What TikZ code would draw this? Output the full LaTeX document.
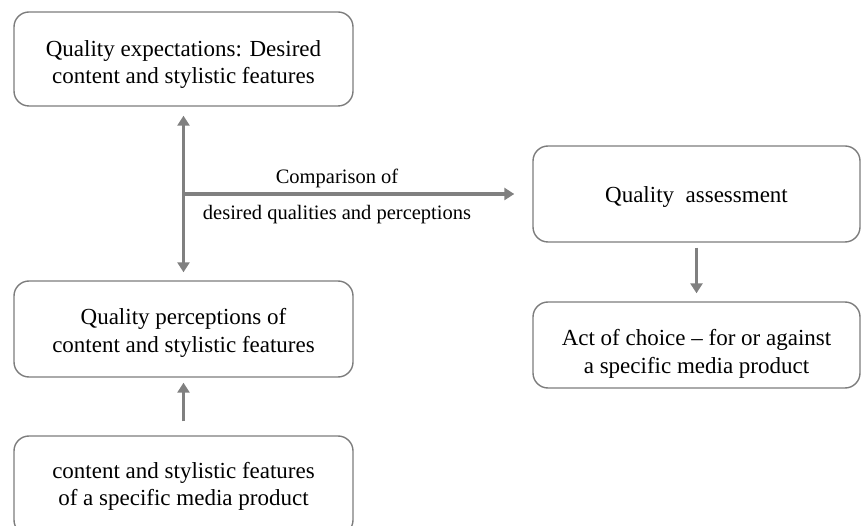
\documentclass[tikz,border=0pt]{standalone}
\usepackage{fontspec}
\setmainfont{Liberation Serif}
\usetikzlibrary{arrows.meta}
\definecolor{bordergray}{RGB}{124,124,124}
\definecolor{arrowgray}{RGB}{128,128,128}
\tikzset{
  box/.style={draw=bordergray, line width=1.4pt, rounded corners=15pt,
    minimum width=339pt, minimum height=96pt, inner sep=0pt},
  boxtext/.style={inner sep=0pt, align=center,
    font=\fontsize{23pt}{28pt}\selectfont},
  arr/.style={draw=arrowgray, line width=3.2pt,
    -{Triangle[length=10pt,width=12pt]}},
  darr/.style={draw=arrowgray, line width=3.2pt,
    {Triangle[length=10pt,width=12pt]}-{Triangle[length=10pt,width=12pt]}},
  lbl/.style={inner sep=0pt, font=\fontsize{20.5pt}{24pt}\selectfont}
}
\begin{document}
\begin{tikzpicture}[x=1pt,y=-1pt]
\useasboundingbox (0,0) rectangle (862,526);
% boxes
\node[box, minimum height=94pt] (A) at (183.5,59) {};
\node[box] (P) at (183.5,329) {};
\node[box, minimum height=99pt] (S) at (183.5,485.5) {};
\node[box, minimum width=327pt] (Q) at (696.5,194) {};
\node[box, minimum width=327pt, minimum height=86pt] (C) at (696.5,345) {};
% texts
\node[boxtext, font=\fontsize{23pt}{27pt}\selectfont] (At) at ([yshift=-5.2pt]A.center) {Quality expectations: Desired\\content and stylistic features};
\node[boxtext] (Pt) at ([yshift=-3.6pt]P.center) {Quality perceptions of\\content and stylistic features};
\node[boxtext, font=\fontsize{23pt}{27pt}\selectfont] (St) at ([yshift=-0.8pt]S.center) {content and stylistic features\\of a specific media product};
\node[boxtext] (Qt) at ([yshift=-2.6pt]Q.center) {Quality\ \ assessment};
\node[boxtext] (Ct) at ([yshift=-8.6pt]C.center) {Act of choice -- for or against\\a specific media product};
% connectors
\coordinate (M) at (183.5,194);
\draw[darr] ([yshift=-9pt]A.south) -- ([yshift=8pt]P.north);
\draw[arr] (M) -- ([xshift=-18pt]Q.west);
\node[lbl] (L1) at (337,178.5) {Comparison of};
\node[lbl] (L2) at (337,214.5) {desired qualities and perceptions};
\draw[arr] ([yshift=-5pt]Q.south) -- ([yshift=8pt]C.north);
\draw[arr] ([yshift=14pt]S.north) -- ([yshift=-5pt]P.south);
\end{tikzpicture}
\end{document}
